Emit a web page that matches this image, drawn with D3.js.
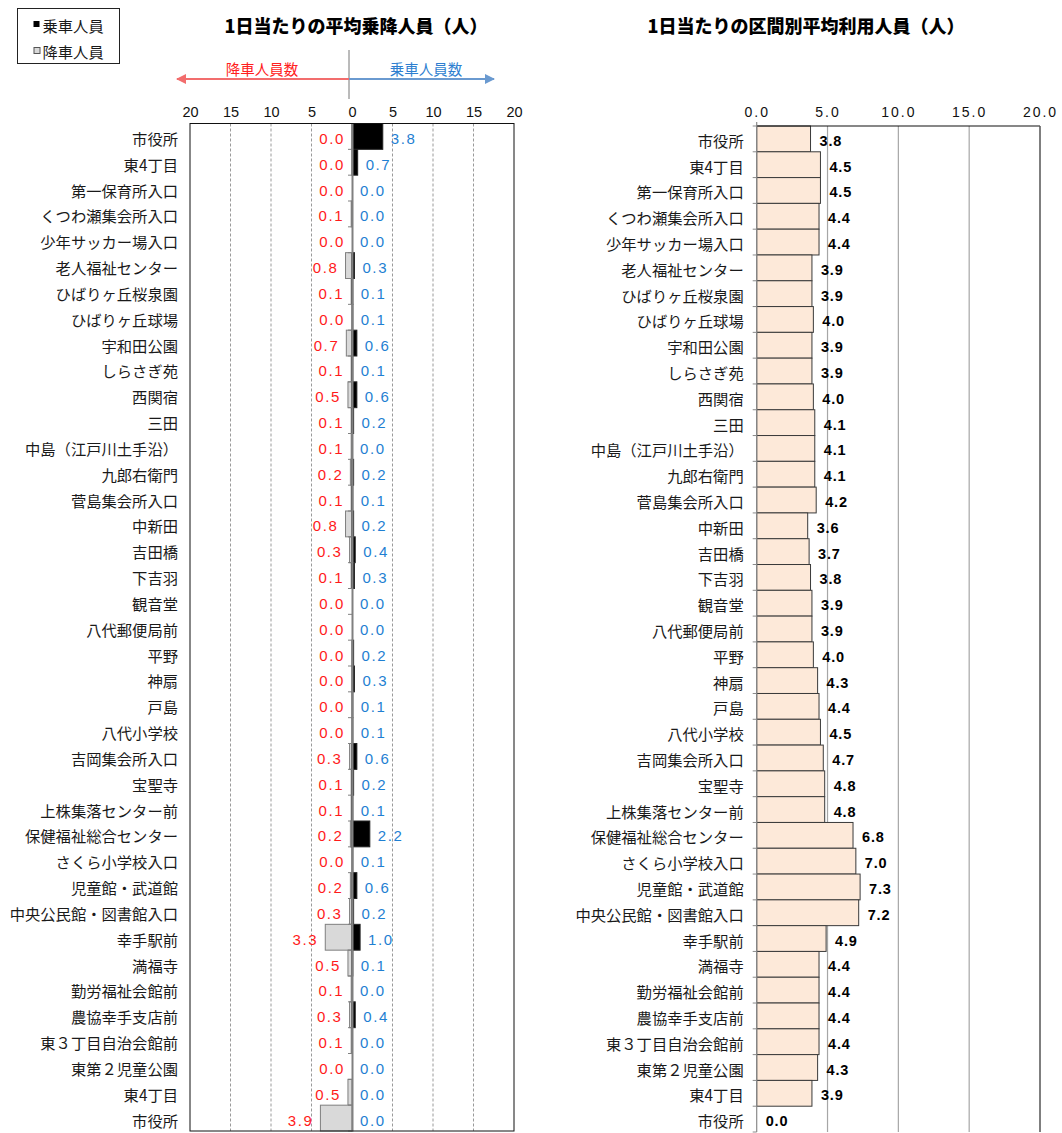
<!DOCTYPE html>
<html lang="ja">
<head>
<meta charset="utf-8">
<script src="https://cdn.jsdelivr.net/npm/d3@7"></script>
<style>
  html, body { margin: 0; padding: 0; background: #fff; }
  svg { display: block; }
  .jp { font-family: "Noto Sans CJK JP", "Noto Sans", sans-serif; }
  .num { font-family: "Liberation Sans", Arial, sans-serif; }
</style>
</head>
<body>
<svg id="chart" width="1062" height="1133"></svg>
<script>
// Bus stops along the route, in running order
const stops = [
  "市役所", "東4丁目", "第一保育所入口", "くつわ瀬集会所入口", "少年サッカー場入口",
  "老人福祉センター", "ひばりヶ丘桜泉園", "ひばりヶ丘球場", "宇和田公園", "しらさぎ苑",
  "西関宿", "三田", "中島（江戸川土手沿）", "九郎右衛門", "菅島集会所入口",
  "中新田", "吉田橋", "下吉羽", "観音堂", "八代郵便局前",
  "平野", "神扇", "戸島", "八代小学校", "吉岡集会所入口",
  "宝聖寺", "上株集落センター前", "保健福祉総合センター", "さくら小学校入口", "児童館・武道館",
  "中央公民館・図書館入口", "幸手駅前", "満福寺", "勤労福祉会館前", "農協幸手支店前",
  "東３丁目自治会館前", "東第２児童公園", "東4丁目", "市役所"
];

// Average boardings per day (乗車人員)
const boarding = [
  3.8, 0.7, 0.0, 0.0, 0.0, 0.3, 0.1, 0.1, 0.6, 0.1,
  0.6, 0.2, 0.0, 0.2, 0.1, 0.2, 0.4, 0.3, 0.0, 0.0,
  0.2, 0.3, 0.1, 0.1, 0.6, 0.2, 0.1, 2.2, 0.1, 0.6,
  0.2, 1.0, 0.1, 0.0, 0.4, 0.0, 0.0, 0.0, 0.0
];

// Average alightings per day (降車人員)
const alighting = [
  0.0, 0.0, 0.0, 0.1, 0.0, 0.8, 0.1, 0.0, 0.7, 0.1,
  0.5, 0.1, 0.1, 0.2, 0.1, 0.8, 0.3, 0.1, 0.0, 0.0,
  0.0, 0.0, 0.0, 0.0, 0.3, 0.1, 0.1, 0.2, 0.0, 0.2,
  0.3, 3.3, 0.5, 0.1, 0.3, 0.1, 0.0, 0.5, 3.9
];

// Average riders on board per section (区間別平均利用人員)
const onboard = [
  3.8, 4.5, 4.5, 4.4, 4.4, 3.9, 3.9, 4.0, 3.9, 3.9,
  4.0, 4.1, 4.1, 4.1, 4.2, 3.6, 3.7, 3.8, 3.9, 3.9,
  4.0, 4.3, 4.4, 4.5, 4.7, 4.8, 4.8, 6.8, 7.0, 7.3,
  7.2, 4.9, 4.4, 4.4, 4.4, 4.4, 4.3, 3.9, 0.0
];

const leftTicks = [-20, -15, -10, -5, 0, 5, 10, 15, 20];
const rightTicks = [0, 5, 10, 15, 20];

const leftTitle = "1日当たりの平均乗降人員（人）";
const rightTitle = "1日当たりの区間別平均利用人員（人）";
const legendLabels = ["乗車人員", "降車人員"];
const arrowLabels = ["降車人員数", "乗車人員数"];

const svg = d3.select("#chart");
const idx = d3.range(stops.length);

// ---------- Left panel: boardings / alightings ----------
const L = { left: 190, right: 514, top: 123.5, bottom: 1131 };
const xL = d3.scaleLinear().domain([-20, 20]).range([L.left, L.right]);
const yL = d3.scaleBand().domain(idx).range([L.top, L.bottom]).padding(0);

const gL = svg.append("g");

// dashed gridlines
gL.append("g").selectAll("line")
  .data(leftTicks.filter(t => t !== 0 && Math.abs(t) !== 20))
  .join("line")
  .attr("x1", d => xL(d)).attr("x2", d => xL(d))
  .attr("y1", L.top).attr("y2", L.bottom)
  .attr("stroke", "#9a9a9a").attr("stroke-width", 1)
  .attr("stroke-dasharray", "3,2");

// tick labels along the top
const topAxisL = d3.axisTop(xL).tickValues(leftTicks).tickSize(0).tickPadding(0)
  .tickFormat(d => String(Math.abs(d)));
gL.append("g").attr("transform", `translate(0,${L.top - 7})`).call(topAxisL)
  .call(g => g.select(".domain").remove())
  .call(g => g.selectAll("text").attr("font-size", 14.5)
    .attr("fill", "#111").attr("font-family", "Liberation Sans, Arial, sans-serif"));

// alighting bars (to the left)
gL.append("g").selectAll("rect")
  .data(idx)
  .join("rect")
  .attr("x", i => xL(-alighting[i]))
  .attr("y", i => yL(i))
  .attr("width", i => xL(0) - xL(-alighting[i]))
  .attr("height", yL.bandwidth())
  .attr("fill", "#d9d9d9").attr("stroke", "#7f7f7f").attr("stroke-width", 1);

// boarding bars (to the right)
gL.append("g").selectAll("rect")
  .data(idx)
  .join("rect")
  .attr("x", xL(0))
  .attr("y", i => yL(i))
  .attr("width", i => xL(boarding[i]) - xL(0))
  .attr("height", yL.bandwidth())
  .attr("fill", "#000").attr("stroke", "#222").attr("stroke-width", 1);

// zero axis with category ticks pointing left
const zeroAxis = d3.axisLeft(yL).tickSize(0).tickFormat("");
gL.append("g").attr("transform", `translate(${xL(0)},0)`).call(zeroAxis)
  .call(g => g.select(".domain").attr("stroke", "#808080").attr("stroke-width", 2));
gL.append("g").selectAll("line")
  .data(d3.range(stops.length + 1))
  .join("line")
  .attr("x1", xL(0) - 4).attr("x2", xL(0))
  .attr("y1", i => L.top + i * yL.step()).attr("y2", i => L.top + i * yL.step())
  .attr("stroke", "#808080").attr("stroke-width", 1);

// frame
gL.append("rect")
  .attr("x", L.left).attr("y", L.top)
  .attr("width", L.right - L.left).attr("height", L.bottom - L.top)
  .attr("fill", "none").attr("stroke", "#111").attr("stroke-width", 1);

// category labels
gL.append("g").selectAll("text")
  .data(idx)
  .join("text")
  .attr("class", "jp")
  .attr("x", L.left - 12)
  .attr("y", i => yL(i) + yL.bandwidth() / 2 + 1.5)
  .attr("text-anchor", "end").attr("dominant-baseline", "central")
  .attr("font-size", 15.3).attr("fill", "#1a1a1a")
  .text(i => stops[i]);

// value labels
gL.append("g").selectAll("text")
  .data(idx)
  .join("text")
  .attr("class", "num")
  .attr("x", i => xL(-alighting[i]) - 7)
  .attr("y", i => yL(i) + yL.bandwidth() / 2 + 2)
  .attr("text-anchor", "end").attr("dominant-baseline", "central")
  .attr("font-size", 15).attr("letter-spacing", 1.6).attr("fill", "#ff1a1a")
  .text(i => alighting[i].toFixed(1));

gL.append("g").selectAll("text")
  .data(idx)
  .join("text")
  .attr("class", "num")
  .attr("x", i => xL(boarding[i]) + 8)
  .attr("y", i => yL(i) + yL.bandwidth() / 2 + 2)
  .attr("text-anchor", "start").attr("dominant-baseline", "central")
  .attr("font-size", 15).attr("letter-spacing", 1.6).attr("fill", "#1f7fd2")
  .text(i => boarding[i].toFixed(1));

// direction arrows above the left panel
const defs = svg.append("defs");
[["headRed", "#f26d6d"], ["headBlue", "#6a9ad0"]].forEach(([id, c]) => {
  defs.append("marker").attr("id", id)
    .attr("viewBox", "0 0 10 10").attr("refX", 9).attr("refY", 5)
    .attr("markerWidth", 5).attr("markerHeight", 5).attr("orient", "auto")
    .append("path").attr("d", "M0,0 L10,5 L0,10 Z").attr("fill", c);
});
const ax0 = 349, ay = 79;
svg.append("line").attr("x1", ax0).attr("x2", ax0).attr("y1", 50).attr("y2", 99)
  .attr("stroke", "#777").attr("stroke-width", 1);
svg.append("line").attr("x1", ax0).attr("x2", 177).attr("y1", ay).attr("y2", ay)
  .attr("stroke", "#f26d6d").attr("stroke-width", 2).attr("marker-end", "url(#headRed)");
svg.append("line").attr("x1", ax0).attr("x2", 494).attr("y1", ay).attr("y2", ay)
  .attr("stroke", "#6a9ad0").attr("stroke-width", 2).attr("marker-end", "url(#headBlue)");
svg.append("text").attr("class", "jp").attr("x", 262).attr("y", 68)
  .attr("text-anchor", "middle").attr("dominant-baseline", "central")
  .attr("font-size", 14.5).attr("fill", "#ff2020").text(arrowLabels[0]);
svg.append("text").attr("class", "jp").attr("x", 426).attr("y", 68)
  .attr("text-anchor", "middle").attr("dominant-baseline", "central")
  .attr("font-size", 14.5).attr("fill", "#2f7fd0").text(arrowLabels[1]);

// ---------- Right panel: riders per section ----------
const R = { left: 756.7, right: 1040, top: 126, bottom: 1132 };
const xR = d3.scaleLinear().domain([0, 20]).range([R.left, R.right]);
const yR = d3.scaleBand().domain(idx).range([R.top, R.bottom]).padding(0);

const gR = svg.append("g");

gR.append("g").selectAll("line")
  .data(rightTicks.filter(t => t > 0 && t < 20))
  .join("line")
  .attr("x1", d => xR(d)).attr("x2", d => xR(d))
  .attr("y1", R.top).attr("y2", R.bottom)
  .attr("stroke", "#a6a6a6").attr("stroke-width", 1.2);

const topAxisR = d3.axisTop(xR).tickValues(rightTicks).tickSize(0).tickPadding(0)
  .tickFormat(d3.format(".1f"));
gR.append("g").attr("transform", `translate(0,${R.top - 9})`).call(topAxisR)
  .call(g => g.select(".domain").remove())
  .call(g => g.selectAll("text").attr("font-size", 14).attr("fill", "#111")
    .attr("letter-spacing", 2)
    .attr("font-family", "Liberation Sans, Arial, sans-serif"));

gR.append("g").selectAll("rect")
  .data(idx)
  .join("rect")
  .attr("x", R.left)
  .attr("y", i => yR(i))
  .attr("width", i => xR(onboard[i]) - R.left)
  .attr("height", yR.bandwidth())
  .attr("fill", "#fde9d9").attr("stroke", "#3a3a3a").attr("stroke-width", 1);

// frame lines: top, right, left axis
gR.append("line").attr("x1", R.left).attr("x2", R.right).attr("y1", R.top).attr("y2", R.top)
  .attr("stroke", "#111").attr("stroke-width", 1.2);
gR.append("line").attr("x1", R.right).attr("x2", R.right).attr("y1", R.top).attr("y2", R.bottom)
  .attr("stroke", "#555").attr("stroke-width", 1.5);
gR.append("line").attr("x1", R.left).attr("x2", R.left).attr("y1", R.top - 4).attr("y2", R.bottom)
  .attr("stroke", "#8a8a8a").attr("stroke-width", 1.2);
gR.append("g").selectAll("line")
  .data(d3.range(stops.length + 1))
  .join("line")
  .attr("x1", R.left - 4).attr("x2", R.left)
  .attr("y1", i => R.top + i * yR.step()).attr("y2", i => R.top + i * yR.step())
  .attr("stroke", "#8a8a8a").attr("stroke-width", 1);

gR.append("g").selectAll("text")
  .data(idx)
  .join("text")
  .attr("class", "jp")
  .attr("x", R.left - 13)
  .attr("y", i => yR(i) + yR.bandwidth() / 2 + 1)
  .attr("text-anchor", "end").attr("dominant-baseline", "central")
  .attr("font-size", 15.3).attr("fill", "#1a1a1a")
  .text(i => stops[i]);

gR.append("g").selectAll("text")
  .data(idx)
  .join("text")
  .attr("class", "num")
  .attr("x", i => xR(onboard[i]) + 9)
  .attr("y", i => yR(i) + yR.bandwidth() / 2 + 2)
  .attr("text-anchor", "start").attr("dominant-baseline", "central")
  .attr("font-size", 14.5).attr("font-weight", "bold").attr("letter-spacing", 0.8)
  .attr("fill", "#000")
  .text(i => onboard[i].toFixed(1));

// ---------- Titles ----------
svg.append("text").attr("class", "jp").attr("x", 356).attr("y", 25)
  .attr("text-anchor", "middle").attr("dominant-baseline", "central")
  .attr("font-size", 18).attr("font-weight", 900).attr("fill", "#000").text(leftTitle);
svg.append("text").attr("class", "jp").attr("x", 806).attr("y", 25)
  .attr("text-anchor", "middle").attr("dominant-baseline", "central")
  .attr("font-size", 18).attr("font-weight", 900).attr("fill", "#000").text(rightTitle);

// ---------- Legend ----------
const lg = svg.append("g");
lg.append("rect").attr("x", 17.5).attr("y", 8.5).attr("width", 102).attr("height", 55)
  .attr("fill", "#fff").attr("stroke", "#222").attr("stroke-width", 1);
lg.append("rect").attr("x", 33.5).attr("y", 21).attr("width", 6).attr("height", 6)
  .attr("fill", "#000");
lg.append("rect").attr("x", 34).attr("y", 47.5).attr("width", 6).attr("height", 6)
  .attr("fill", "#d9d9d9").attr("stroke", "#555").attr("stroke-width", 1);
lg.append("text").attr("class", "jp").attr("x", 42.5).attr("y", 24.5)
  .attr("dominant-baseline", "central").attr("font-size", 15.3).attr("fill", "#1a1a1a")
  .text(legendLabels[0]);
lg.append("text").attr("class", "jp").attr("x", 42.5).attr("y", 51)
  .attr("dominant-baseline", "central").attr("font-size", 15.3).attr("fill", "#1a1a1a")
  .text(legendLabels[1]);
</script>
</body>
</html>
